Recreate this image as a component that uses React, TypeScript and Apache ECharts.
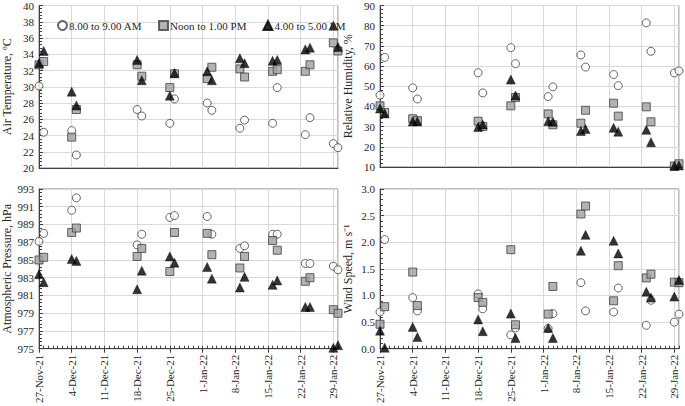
import React, { useEffect, useRef } from "react";
import * as echarts from "echarts";

const dates = [
  "2021-11-27", "2021-11-28", "2021-12-04", "2021-12-05", "2021-12-18", "2021-12-19",
  "2021-12-25", "2021-12-26", "2022-01-02", "2022-01-03", "2022-01-09", "2022-01-10",
  "2022-01-16", "2022-01-17", "2022-01-23", "2022-01-24", "2022-01-29", "2022-01-30",
];

const seriesNames = ["8.00 to 9.00 AM", "Noon to 1.00 PM", "4.00 to 5.00 PM"];

const tempAM = [30.1, 24.4, 24.6, 21.6, 27.2, 26.4, 25.5, 28.5, 28.0, 27.1, 24.9, 25.9, 25.5, 29.9, 24.1, 26.2, 23.0, 22.5];
const tempNoon = [32.7, 33.1, 23.8, 27.2, 32.7, 31.3, 29.9, 31.6, 31.0, 32.4, 32.2, 31.2, 31.9, 32.1, 31.9, 32.7, 35.4, 34.4];
const tempPM = [32.9, 34.4, 29.4, 27.7, 33.3, 30.8, 28.9, 31.7, 31.9, 30.8, 33.5, 32.9, 33.2, 33.3, 34.6, 34.8, 37.5, 34.9];

const rhAM = [45.6, 64.3, 49.2, 43.7, 56.7, 46.7, 69.1, 61.2, 44.9, 49.7, 65.5, 59.5, 55.8, 50.3, 81.4, 67.3, 56.6, 57.6];
const rhNoon = [40.3, 37.0, 33.9, 33.0, 32.7, 30.1, 40.3, 44.4, 36.3, 30.9, 31.7, 38.1, 41.6, 35.2, 39.8, 32.4, 10.5, 11.6];
const rhPM = [39.0, 36.5, 32.6, 32.6, 29.8, 31.1, 53.3, 45.4, 32.7, 32.4, 27.8, 28.8, 29.4, 27.5, 28.4, 22.3, 10.5, 10.8];

const presAM = [987.1, 988.0, 990.6, 992.0, 986.7, 987.9, 989.8, 990.0, 989.9, 987.9, 986.3, 986.6, 987.9, 987.9, 984.6, 984.6, 984.3, 983.9];
const presNoon = [985.0, 985.3, 988.1, 988.6, 985.4, 986.3, 983.7, 988.1, 988.0, 985.6, 984.1, 985.4, 987.2, 986.1, 982.6, 983.0, 979.4, 979.0];
const presPM = [983.4, 982.5, 985.1, 984.9, 981.7, 983.8, 985.4, 984.7, 984.2, 982.9, 981.9, 983.1, 982.2, 982.7, 979.7, 979.7, 975.1, 975.4];

const windAM = [0.69, 2.05, 0.96, 0.71, 1.03, 0.75, 0.26, 0.39, 0.38, 0.66, 1.24, 0.71, 0.69, 1.14, 0.44, 0.91, 0.50, 0.65];
const windNoon = [0.46, 0.79, 1.44, 0.81, 0.96, 0.87, 1.86, 0.45, 0.65, 1.17, 2.53, 2.68, 0.90, 1.56, 1.33, 1.40, 1.25, 1.24];
const windPM = [0.34, 0.02, 0.41, 0.22, 0.55, 0.33, 0.66, 0.20, 0.39, 0.20, 1.84, 2.14, 2.03, 1.79, 1.07, 0.96, 0.98, 1.29];

const startDate = "2021-11-27";
const endDate = "2022-01-30";

const MONTHS = ["Jan", "Feb", "Mar", "Apr", "May", "Jun", "Jul", "Aug", "Sep", "Oct", "Nov", "Dec"];
const DAY = 86400000;
const base = Date.parse(startDate + "T00:00:00Z");
const dayOf = (s: string) => Math.round((Date.parse(s + "T00:00:00Z") - base) / DAY);
const xMax = dayOf(endDate);
const fmtDate = (d: number) => {
  const dt = new Date(base + d * DAY);
  return `${dt.getUTCDate()}-${MONTHS[dt.getUTCMonth()]}-${String(dt.getUTCFullYear()).slice(2)}`;
};

const FONT = "'Liberation Serif', 'Times New Roman', serif";
const AXIS_COLOR = "#404040";
const GRID_COLOR = "#d9d9d9";

export default function App() {
  const ref = useRef<HTMLDivElement>(null);
  useEffect(() => {
    if (!ref.current) return;
    const chart = echarts.init(ref.current, undefined, { renderer: "svg" });

    const grids = [
      { left: 39, top: 5, width: 299, height: 163 },
      { left: 380, top: 5, width: 299, height: 162 },
      { left: 39, top: 189, width: 299, height: 163 },
      { left: 380, top: 189, width: 299, height: 163 },
    ].map((g) => ({ ...g, show: true, borderColor: "#7f7f7f", borderWidth: 1 }));

    const mainX = (gi: number, labels: boolean) => ({
      type: "value",
      gridIndex: gi,
      min: 0,
      max: xMax,
      interval: 7,
      axisLine: { show: true, onZero: false, lineStyle: { color: AXIS_COLOR, width: 1 } },
      axisTick: { show: labels, length: 4, lineStyle: { color: AXIS_COLOR } },
      splitLine: { show: true, lineStyle: { color: GRID_COLOR, width: 1 } },
      axisLabel: {
        show: labels,
        rotate: 90,
        margin: 6,
        fontFamily: FONT,
        fontSize: 11,
        color: "#262626",
        showMaxLabel: false,
        formatter: (v: number) => (v % 7 === 0 && v < xMax ? fmtDate(v) : ""),
      },
    });
    const minorX = (gi: number) => ({
      type: "value",
      gridIndex: gi,
      position: "bottom",
      offset: 0,
      min: 0,
      max: xMax,
      interval: 1,
      axisLine: { show: false, onZero: false },
      axisTick: { show: true, inside: true, length: 3, lineStyle: { color: AXIS_COLOR } },
      splitLine: { show: false },
      axisLabel: { show: false },
    });

    const yAx = (gi: number, min: number, max: number, interval: number, name: string, dec: number) => ({
      type: "value",
      gridIndex: gi,
      min,
      max,
      interval,
      name,
      nameLocation: "middle",
      nameRotate: 90,
      nameGap: 26,
      nameTextStyle: { fontFamily: FONT, fontSize: 12, color: "#262626" },
      axisLine: { show: true, onZero: false, lineStyle: { color: AXIS_COLOR, width: 1 } },
      axisTick: { show: true, inside: true, length: 4, lineStyle: { color: AXIS_COLOR } },
      minorTick: { show: true, splitNumber: 5, length: 3, lineStyle: { color: AXIS_COLOR } },
      splitLine: { show: true, lineStyle: { color: GRID_COLOR, width: 1 } },
      axisLabel: {
        fontFamily: FONT,
        fontSize: 11,
        color: "#262626",
        margin: 5,
        formatter: (v: number) => v.toFixed(dec),
      },
    });

    const styles = [
      { symbol: "circle", symbolSize: 8, itemStyle: { color: "#ffffff", borderColor: "#404040", borderWidth: 1 } },
      { symbol: "rect", symbolSize: 8, itemStyle: { color: "#a0a0a0", borderColor: "#404040", borderWidth: 1 } },
      { symbol: "triangle", symbolSize: 9, itemStyle: { color: "#000000", borderColor: "#000000", borderWidth: 0.5 } },
    ];

    const panels = [
      [tempAM, tempNoon, tempPM],
      [rhAM, rhNoon, rhPM],
      [presAM, presNoon, presPM],
      [windAM, windNoon, windPM],
    ];

    const series: any[] = [];
    panels.forEach((sets, gi) => {
      sets.forEach((vals, si) => {
        series.push({
          type: "scatter",
          name: seriesNames[si],
          xAxisIndex: gi,
          yAxisIndex: gi,
          clip: false,
          ...styles[si],
          data: vals.map((v, i) => [dayOf(dates[i]), v]),
        });
      });
    });

    chart.setOption({
      animation: false,
      backgroundColor: "#ffffff",
      grid: grids,
      xAxis: [mainX(0, false), mainX(1, false), mainX(2, true), mainX(3, true), minorX(2), minorX(3)],
      yAxis: [
        yAx(0, 20, 40, 2, "Air Temperature, ºC", 0),
        yAx(1, 10, 90, 10, "Relative Humidity, %", 0),
        yAx(2, 975, 993, 2, "Atmospheric Pressure, hPa", 0),
        yAx(3, 0, 3, 0.5, "Wind Speed, m s⁻¹", 1),
      ],
      legend: {
        data: seriesNames,
        left: 52,
        top: 15,
        itemWidth: 9,
        itemHeight: 9,
        itemGap: 16,
        textStyle: { fontFamily: FONT, fontSize: 11, color: "#262626", padding: [0, 0, 0, -3] },
      },
      series,
    });
    return () => chart.dispose();
  }, []);
  return (
    <div
      ref={ref}
      style={{ position: "fixed", left: 0, top: 0, width: 685, height: 406, background: "#fff" }}
    />
  );
}
